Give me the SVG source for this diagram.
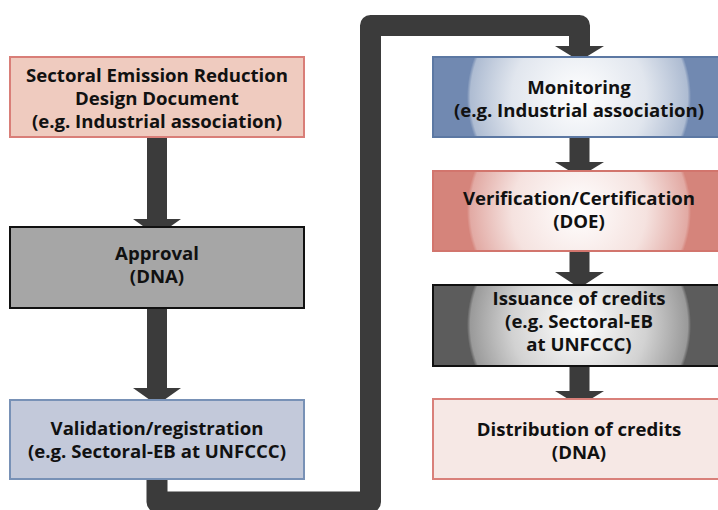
<svg xmlns="http://www.w3.org/2000/svg" width="718" height="510" viewBox="0 0 718 510">
<style>
text{font-family:"Open Sans","Noto Sans","Liberation Sans",sans-serif;font-weight:bold;font-size:18.6px;fill:#111;text-anchor:middle}
.arrow{fill:#3b3b3b}
.conn{fill:none;stroke:#3b3b3b;stroke-width:21;stroke-linejoin:round}
</style>
<defs>
<radialGradient id="gBlue" gradientUnits="userSpaceOnUse" cx="579" cy="97" r="112">
<stop offset="0" stop-color="#ffffff"/><stop offset="0.6" stop-color="#e1e6ee"/><stop offset="0.97" stop-color="#aebcd2"/><stop offset="1" stop-color="#7189b1"/>
</radialGradient>
<radialGradient id="gRed" gradientUnits="userSpaceOnUse" cx="579" cy="211" r="112">
<stop offset="0" stop-color="#ffffff"/><stop offset="0.6" stop-color="#f5e2df"/><stop offset="0.97" stop-color="#e2aaa4"/><stop offset="1" stop-color="#d5847b"/>
</radialGradient>
<radialGradient id="gGray" gradientUnits="userSpaceOnUse" cx="579" cy="325" r="112">
<stop offset="0" stop-color="#ffffff"/><stop offset="0.6" stop-color="#d2d2d2"/><stop offset="0.97" stop-color="#9a9a9a"/><stop offset="1" stop-color="#5c5c5c"/>
</radialGradient>
</defs>
<g id="connectors">
<rect class="arrow" x="147" y="137" width="20" height="82"/>
<polygon class="arrow" points="133,219 181,219 157,236"/>
<rect class="arrow" x="147" y="308" width="20" height="80"/>
<polygon class="arrow" points="133,388 181,388 157,405"/>
<path class="conn" d="M157 479 V502 H370.5 V25.5 H579.5 V47"/>
<polygon class="arrow" points="555,46 604,46 579.5,61"/>
<rect class="arrow" x="569.5" y="137" width="20" height="26"/>
<polygon class="arrow" points="555,162 604,162 579.5,177"/>
<rect class="arrow" x="569.5" y="251" width="20" height="22"/>
<polygon class="arrow" points="555,272 604,272 579.5,288"/>
<rect class="arrow" x="569.5" y="366" width="20" height="26"/>
<polygon class="arrow" points="555,391 604,391 579.5,406"/>
</g>
<g id="n1">
<rect x="10" y="57" width="294" height="80" fill="#efcbbf" stroke="#d97e78" stroke-width="2"/>
<text x="157" y="81.5">Sectoral Emission Reduction</text>
<text x="157" y="104.5">Design Document</text>
<text x="157" y="127.5">(e.g. Industrial association)</text>
</g>
<g id="n2">
<rect x="10" y="227" width="294" height="81" fill="#a6a6a6" stroke="#111" stroke-width="2"/>
<text x="157" y="260">Approval</text>
<text x="157" y="283">(DNA)</text>
</g>
<g id="n3">
<rect x="10" y="400" width="294" height="79" fill="#c3c9da" stroke="#7891b6" stroke-width="2"/>
<text x="157" y="435">Validation/registration</text>
<text x="157" y="458">(e.g. Sectoral-EB at UNFCCC)</text>
</g>
<g id="n4">
<rect x="433" y="57" width="292" height="80" fill="url(#gBlue)" stroke="#5c78a3" stroke-width="2"/>
<text x="579" y="93.5">Monitoring</text>
<text x="579" y="116.5">(e.g. Industrial association)</text>
</g>
<g id="n5">
<rect x="433" y="171" width="292" height="80" fill="url(#gRed)" stroke="#d2756d" stroke-width="2"/>
<text x="579" y="204.5">Verification/Certification</text>
<text x="579" y="227.5">(DOE)</text>
</g>
<g id="n6">
<rect x="433" y="285" width="292" height="81" fill="url(#gGray)" stroke="#111" stroke-width="2"/>
<text x="579" y="305">Issuance of credits</text>
<text x="579" y="328">(e.g. Sectoral-EB</text>
<text x="579" y="351">at UNFCCC)</text>
</g>
<g id="n7">
<rect x="433" y="399" width="292" height="80" fill="#f6e8e5" stroke="#d9807a" stroke-width="2"/>
<text x="579" y="436">Distribution of credits</text>
<text x="579" y="459">(DNA)</text>
</g>
</svg>
